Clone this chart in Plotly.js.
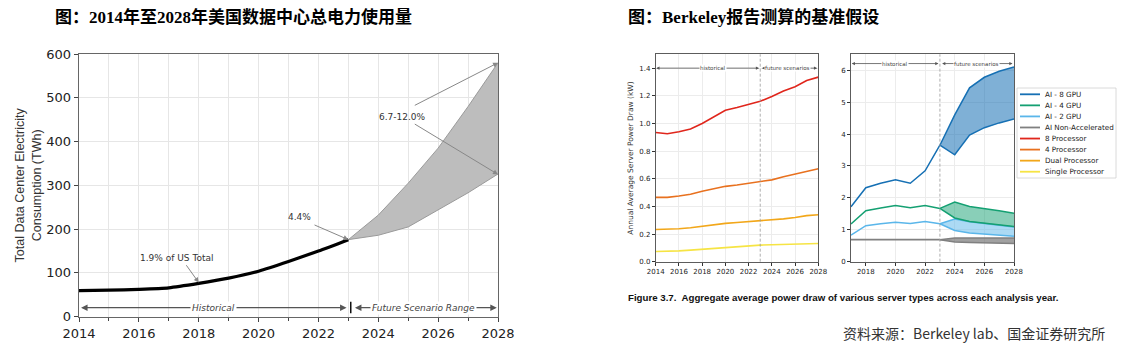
<!DOCTYPE html>
<html>
<head>
<meta charset="utf-8">
<script src="https://cdn.plot.ly/plotly-3.0.1.min.js"></script>
<style>html,body{margin:0;padding:0;background:#fff;}#chart{width:1128px;height:346px;}</style>
</head>
<body>
<div id="chart"></div>
<script>
// ---------- DATA ----------
// Chart 1: US data center total electricity use (TWh)
const yearsHist1 = [2014, 2015, 2016, 2017, 2018, 2019, 2020, 2021, 2022, 2023];
const totalHist = [59.5, 60.5, 62.5, 66, 76, 88, 104, 126, 150, 176];
const yearsFut1 = [2023, 2024, 2025, 2026, 2027, 2028];
const totalHigh = [176, 232, 305, 385, 480, 580];
const totalLow = [176, 186, 205, 244, 283, 326];

// Chart 2: average server power draw (kW), conventional servers
const years2 = [2014, 2015, 2016, 2017, 2018, 2019, 2020, 2021, 2022, 2023, 2024, 2025, 2026, 2027, 2028];
const proc8 = [0.935, 0.925, 0.94, 0.96, 1.0, 1.05, 1.095, 1.115, 1.14, 1.16, 1.195, 1.235, 1.265, 1.31, 1.335];
const proc4 = [0.465, 0.465, 0.475, 0.488, 0.51, 0.53, 0.545, 0.555, 0.568, 0.577, 0.592, 0.615, 0.633, 0.653, 0.672];
const procDual = [0.233, 0.233, 0.238, 0.246, 0.258, 0.27, 0.277, 0.283, 0.29, 0.293, 0.3, 0.31, 0.32, 0.333, 0.34];
const procSingle = [0.074, 0.075, 0.078, 0.084, 0.09, 0.1, 0.106, 0.112, 0.117, 0.12, 0.123, 0.126, 0.129, 0.13, 0.132];

// Chart 3: AI servers (kW)
const yearsHist3 = [2017, 2018, 2019, 2020, 2021, 2022, 2023];
const gpu8Hist = [1.72, 2.32, 2.46, 2.57, 2.46, 2.85, 3.65];
const gpu4Hist = [1.18, 1.6, 1.68, 1.76, 1.69, 1.76, 1.67];
const gpu2Hist = [0.83, 1.13, 1.19, 1.24, 1.2, 1.26, 1.19];
const nonAccHist = [0.69, 0.69, 0.69, 0.69, 0.69, 0.69, 0.69];
const yearsFut3 = [2023, 2024, 2025, 2026, 2027, 2028];
const gpu8High = [3.65, 4.6, 5.45, 5.78, 5.97, 6.1];
const gpu8Low = [3.65, 3.35, 3.97, 4.2, 4.35, 4.47];
const gpu4High = [1.67, 1.87, 1.73, 1.67, 1.6, 1.52];
const gpu4Low = [1.67, 1.37, 1.26, 1.21, 1.16, 1.1];
const gpu2High = [1.19, 1.34, 1.25, 1.2, 1.15, 1.09];
const gpu2Low = [1.19, 0.98, 0.9, 0.87, 0.83, 0.8];
const nonAccHigh = [0.69, 0.74, 0.74, 0.74, 0.74, 0.74];
const nonAccLow = [0.69, 0.62, 0.6, 0.59, 0.58, 0.57];

const legendNames = ["AI - 8 GPU", "AI - 4 GPU", "AI - 2 GPU", "AI Non-Accelerated", "8 Processor", "4 Processor", "Dual Processor", "Single Processor"];

const title1 = "图：2014年至2028年美国数据中心总电力使用量";
const title2 = "图：Berkeley报告测算的基准假设";
const caption = "Figure 3.7.  Aggregate average power draw of various server types across each analysis year.";
const sourceText = "资料来源：Berkeley lab、国金证券研究所";

// ---------- STYLE ----------
const W = 1128, H = 346;
const px = v => v / W;
const py = v => 1 - v / H;
const C = {
  gpu8: '#1670b4', gpu8Fill: 'rgba(22,112,180,0.55)',
  gpu4: '#14a072', gpu4Fill: 'rgba(20,160,114,0.5)',
  gpu2: '#5ab6ea', gpu2Fill: 'rgba(90,182,234,0.5)',
  nonAcc: '#808080', nonAccFill: 'rgba(110,110,110,0.65)',
  p8: '#e0261c', p4: '#e8711f', dual: '#f2a71a', single: '#f6e444'
};
const legendColors = [C.gpu8, C.gpu4, C.gpu2, C.nonAcc, C.p8, C.p4, C.dual, C.single];
const MPL = 'DejaVu Sans, sans-serif';

function line(x, y, color, width, xa, ya, extra) {
  return Object.assign({x: x, y: y, type: 'scatter', mode: 'lines', line: {color: color, width: width}, xaxis: xa, yaxis: ya, showlegend: false, hoverinfo: 'skip'}, extra || {});
}

const traces = [
  // chart 1
  line(yearsFut1, totalLow, '#9a9a9a', 1, 'x', 'y'),
  line(yearsFut1, totalHigh, '#9a9a9a', 1, 'x', 'y', {fill: 'tonexty', fillcolor: '#bdbdbd'}),
  line(yearsHist1, totalHist, '#000000', 3.2, 'x', 'y', {line: {color: '#000', width: 3.2, shape: 'spline', smoothing: 0.6}}),
  // chart 2
  line(years2, procSingle, C.single, 1.6, 'x2', 'y2'),
  line(years2, procDual, C.dual, 1.6, 'x2', 'y2'),
  line(years2, proc4, C.p4, 1.6, 'x2', 'y2'),
  line(years2, proc8, C.p8, 1.6, 'x2', 'y2'),
  // chart 3 bands
  line(yearsFut3, nonAccLow, C.nonAcc, 1.5, 'x3', 'y3'),
  line(yearsFut3, nonAccHigh, C.nonAcc, 1.5, 'x3', 'y3', {fill: 'tonexty', fillcolor: C.nonAccFill}),
  line(yearsFut3, gpu2Low, C.gpu2, 1.5, 'x3', 'y3'),
  line(yearsFut3, gpu2High, C.gpu2, 1.5, 'x3', 'y3', {fill: 'tonexty', fillcolor: C.gpu2Fill}),
  line(yearsFut3, gpu4Low, C.gpu4, 1.5, 'x3', 'y3'),
  line(yearsFut3, gpu4High, C.gpu4, 1.5, 'x3', 'y3', {fill: 'tonexty', fillcolor: C.gpu4Fill}),
  line(yearsFut3, gpu8Low, C.gpu8, 1.5, 'x3', 'y3'),
  line(yearsFut3, gpu8High, C.gpu8, 1.5, 'x3', 'y3', {fill: 'tonexty', fillcolor: C.gpu8Fill}),
  // chart 3 historical
  line(yearsHist3, nonAccHist, C.nonAcc, 1.8, 'x3', 'y3'),
  line(yearsHist3, gpu2Hist, C.gpu2, 1.5, 'x3', 'y3'),
  line(yearsHist3, gpu4Hist, C.gpu4, 1.5, 'x3', 'y3'),
  line(yearsHist3, gpu8Hist, C.gpu8, 1.5, 'x3', 'y3')
];

function arrowAnn(xh, yh, xt, yt, xr, yr, color, w, size) {
  return {x: xh, y: yh, ax: xt, ay: yt, xref: xr, yref: yr, axref: xr, ayref: yr, text: '', showarrow: true,
          arrowhead: 2, arrowsize: size || 1, arrowwidth: w || 1, arrowcolor: color || '#666', standoff: 0, startstandoff: 0};
}
function textAnn(x, y, t, xr, yr, font, extra) {
  return Object.assign({x: x, y: y, xref: xr, yref: yr, text: t, showarrow: false, font: font, xanchor: 'center', yanchor: 'middle'}, extra || {});
}

const annFont1 = {family: MPL, size: 9, color: '#333'};
const arrFont1 = {family: MPL, size: 9, color: '#444'};
const smallFont = {family: MPL, size: 5.5, color: '#444'};

const annotations = [
  // titles
  textAnn(px(53), py(17), '<b>' + title1 + '</b>', 'paper', 'paper', {family: 'Liberation Serif, Noto Sans CJK SC', size: 17, color: '#000'}, {xanchor: 'left'}),
  textAnn(px(626), py(17), '<b>' + title2 + '</b>', 'paper', 'paper', {family: 'Liberation Serif, Noto Sans CJK SC', size: 17, color: '#000'}, {xanchor: 'left'}),
  // chart 1 labels
  arrowAnn(2018, 78, 2017.55, 121, 'x', 'y', '#888', 1, 1),
  textAnn(2017.25, 134, '1.9% of US Total', 'x', 'y', annFont1),
  arrowAnn(2023, 176, 2021.82, 211, 'x', 'y', '#888', 1, 1),
  textAnn(2021.38, 228, '4.4%', 'x', 'y', annFont1),
  arrowAnn(2028, 580, 2025.17, 481, 'x', 'y', '#888', 1, 1),
  arrowAnn(2028, 325, 2025.17, 442, 'x', 'y', '#888', 1, 1),
  textAnn(2024.81, 457, '6.7-12.0%', 'x', 'y', annFont1),
  // chart 1 historical / future arrows
  arrowAnn(2014.07, 20.5, 2018.5, 20.5, 'x', 'y', '#555', 1.3, 1),
  arrowAnn(2022.94, 20.5, 2018.5, 20.5, 'x', 'y', '#555', 1.3, 1),
  textAnn(2018.49, 20.5, '<i>Historical</i>', 'x', 'y', arrFont1, {bgcolor: '#fff', borderpad: 1}),
  arrowAnn(2023.22, 20.5, 2025.5, 20.5, 'x', 'y', '#555', 1.3, 1),
  arrowAnn(2027.96, 20.5, 2025.5, 20.5, 'x', 'y', '#555', 1.3, 1),
  textAnn(2025.5, 20.5, '<i>Future Scenario Range</i>', 'x', 'y', arrFont1, {bgcolor: '#fff', borderpad: 1}),
  // chart 2 arrows
  arrowAnn(2014.05, 1.4, 2018.96, 1.4, 'x2', 'y2', '#555', 0.8, 0.8),
  arrowAnn(2022.9, 1.4, 2018.96, 1.4, 'x2', 'y2', '#555', 0.8, 0.8),
  textAnn(2018.96, 1.4, 'historical', 'x2', 'y2', smallFont, {bgcolor: '#fff', borderpad: 0}),
  arrowAnn(2023.15, 1.4, 2025.35, 1.4, 'x2', 'y2', '#555', 0.8, 0.8),
  arrowAnn(2027.9, 1.4, 2025.35, 1.4, 'x2', 'y2', '#555', 0.8, 0.8),
  textAnn(2025.35, 1.4, 'future scenarios', 'x2', 'y2', smallFont, {bgcolor: '#fff', borderpad: 0}),
  // chart 3 arrows
  arrowAnn(2017.05, 6.21, 2019.97, 6.21, 'x3', 'y3', '#555', 0.8, 0.8),
  arrowAnn(2022.9, 6.21, 2019.97, 6.21, 'x3', 'y3', '#555', 0.8, 0.8),
  textAnn(2019.97, 6.21, 'historical', 'x3', 'y3', smallFont, {bgcolor: '#fff', borderpad: 0}),
  arrowAnn(2023.15, 6.21, 2025.49, 6.21, 'x3', 'y3', '#555', 0.8, 0.8),
  arrowAnn(2027.9, 6.21, 2025.49, 6.21, 'x3', 'y3', '#555', 0.8, 0.8),
  textAnn(2025.49, 6.21, 'future scenarios', 'x3', 'y3', smallFont, {bgcolor: '#fff', borderpad: 0}),
  // caption & source
  textAnn(px(626), py(297), '<b>' + caption + '</b>', 'paper', 'paper', {family: 'Liberation Sans, Arial', size: 9.7, color: '#111'}, {xanchor: 'left'}),
  textAnn(px(841), py(333), sourceText, 'paper', 'paper', {family: 'Noto Sans CJK SC', size: 14, color: '#333'}, {xanchor: 'left'})
];

const shapes = [
  // chart 1 separator bar
  {type: 'line', xref: 'x', yref: 'y', x0: 2023.08, x1: 2023.08, y0: 8, y1: 34, line: {color: '#111', width: 1.5}},
  // dashed 2023 lines
  {type: 'line', xref: 'x2', yref: 'y2 domain', x0: 2023, x1: 2023, y0: 0, y1: 1, line: {color: '#999', width: 0.8, dash: '3px,2px'}},
  {type: 'line', xref: 'x3', yref: 'y3 domain', x0: 2023, x1: 2023, y0: 0, y1: 1, line: {color: '#999', width: 0.8, dash: '3px,2px'}},
  // legend box
  {type: 'rect', xref: 'paper', yref: 'paper', x0: px(1017), x1: px(1116), y0: py(178), y1: py(88), line: {color: '#d0d0d0', width: 0.8}, fillcolor: '#fff'}
];

legendNames.forEach((n, i) => {
  const yy = 94.3 + i * 11.06;
  shapes.push({type: 'line', xref: 'paper', yref: 'paper', x0: px(1020), x1: px(1040), y0: py(yy), y1: py(yy), line: {color: legendColors[i], width: 1.8}});
  annotations.push(textAnn(px(1043), py(yy), n, 'paper', 'paper', {family: MPL, size: 7.2, color: '#222'}, {xanchor: 'left'}));
});

const tick1 = {family: MPL, size: 13, color: '#222'};
const tick2 = {family: MPL, size: 7, color: '#222'};

const layout = {
  width: W, height: H,
  margin: {l: 0, r: 0, t: 0, b: 0},
  paper_bgcolor: '#fff', plot_bgcolor: '#fff',
  showlegend: false,
  xaxis: {domain: [px(79), px(498)], range: [2014, 2028], tick0: 2014, dtick: 2, ticks: 'outside', ticklen: 4, tickcolor: '#444',
          showline: true, linecolor: '#666', linewidth: 1.3, mirror: true, showgrid: true, gridcolor: '#e6e6e6', zeroline: false,
          tickfont: tick1, anchor: 'y', fixedrange: true,
          minor: {dtick: 1, tick0: 2014, ticks: 'outside', ticklen: 3, tickcolor: '#444', showgrid: true, gridcolor: '#e6e6e6'}},
  yaxis: {domain: [py(316.7), py(54)], range: [0, 600], dtick: 100, ticks: 'outside', ticklen: 4, tickcolor: '#444',
          showline: true, linecolor: '#666', linewidth: 1.3, mirror: true, showgrid: true, gridcolor: '#e6e6e6', zeroline: false,
          tickfont: tick1, anchor: 'x', fixedrange: true,
          title: {text: 'Total Data Center Electricity<br>Consumption (TWh)', font: {family: 'Liberation Sans, Arial', size: 12.5, color: '#333'}, standoff: 2}},
  xaxis2: {domain: [px(655.7), px(818.3)], range: [2014, 2028], tick0: 2014, dtick: 2, ticks: 'outside', ticklen: 3, tickcolor: '#333',
           showline: true, linecolor: '#333', linewidth: 0.8, mirror: true, showgrid: true, gridcolor: '#ececec', zeroline: false,
           tickfont: tick2, anchor: 'y2'},
  yaxis2: {domain: [py(261.7), py(54.3)], range: [0, 1.5], dtick: 0.2, tickformat: '.1f', ticks: 'outside', ticklen: 3, tickcolor: '#333',
           showline: true, linecolor: '#333', linewidth: 0.8, mirror: true, showgrid: true, gridcolor: '#ececec', zeroline: false,
           tickfont: tick2, anchor: 'x2',
           title: {text: 'Annual Average Server Power Draw (kW)', font: {family: MPL, size: 7.5, color: '#333'}, standoff: 4}},
  xaxis3: {domain: [px(851), px(1014)], range: [2017, 2028], tick0: 2018, dtick: 2, ticks: 'outside', ticklen: 3, tickcolor: '#333',
           showline: true, linecolor: '#333', linewidth: 0.8, mirror: true, showgrid: true, gridcolor: '#ececec', zeroline: false,
           tickfont: tick2, anchor: 'y3'},
  yaxis3: {domain: [py(261.7), py(54.3)], range: [0, 6.5], dtick: 1, ticks: 'outside', ticklen: 3, tickcolor: '#333',
           showline: true, linecolor: '#333', linewidth: 0.8, mirror: true, showgrid: true, gridcolor: '#ececec', zeroline: false,
           tickfont: tick2, anchor: 'x3'},
  annotations: annotations,
  shapes: shapes
};

Plotly.newPlot('chart', traces, layout, {displayModeBar: false, staticPlot: true});
</script>
</body>
</html>
